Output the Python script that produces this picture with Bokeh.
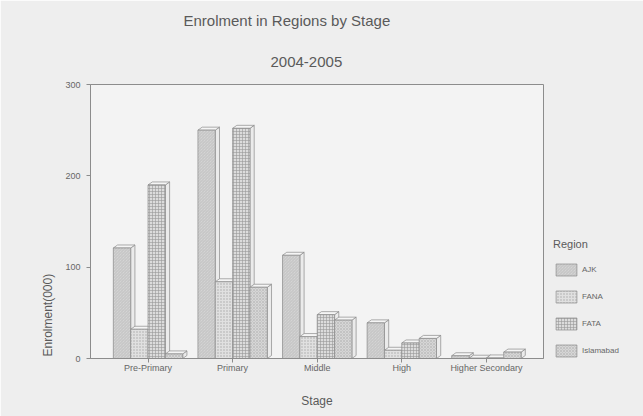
import numpy as np
from bokeh.plotting import figure
from bokeh.models import (ColumnDataSource, Legend, LegendItem, Title, FixedTicker, Range1d)
from bokeh.embed import file_html
from bokeh.resources import INLINE

stages = ["Pre-Primary", "Primary", "Middle", "High", "Higher Secondary"]
regions = ["AJK", "FANA", "FATA", "Islamabad"]
ajk = [121, 250, 113, 39, 3]
fana = [32, 84, 24, 9, 0.3]
fata = [190, 252, 48, 17, 0.6]
islamabad = [5, 78, 42, 22, 7]
y_ticks = [0, 100, 200, 300]

series = [ajk, fana, fata, islamabad]
styles = [
    dict(fill_color="#dadada", hatch_pattern="left_diagonal_line", hatch_color="#b0b0b0", hatch_scale=3, hatch_weight=0.6),
    dict(fill_color="#e0e0e0", hatch_pattern="dot", hatch_color="#aaaaaa", hatch_scale=3, hatch_weight=0.7),
    dict(fill_color="#dcdcdc", hatch_pattern="cross", hatch_color="#999999", hatch_scale=3, hatch_weight=0.6),
    dict(fill_color="#d6d6d6", hatch_pattern="diagonal_cross", hatch_color="#b0b0b0", hatch_scale=3, hatch_weight=0.5),
]

FONT = "Liberation Sans"
TXT = "#5a5a5a"
p = figure(frame_width=453, frame_height=274, min_border_left=90, min_border_top=84,
           min_border_bottom=58, min_border_right=0,
           x_range=Range1d(-0.68, 4.675), y_range=Range1d(0, 300),
           output_backend="svg", toolbar_location=None, title=None)
p.background_fill_color = "#f3f3f3"
p.border_fill_color = "#eeeeee"
p.outline_line_color = "#8c8c8c"
p.outline_line_width = 1
p.grid.visible = False

w = 0.205
dx = 0.05
dy = 3.3
gx = np.arange(len(stages))
items = []
for k, (vals, st) in enumerate(zip(series, styles)):
    xc = gx + (k - 1.5) * w
    x0 = xc - w / 2
    x1 = xc + w / 2
    v = np.array(vals, dtype=float)
    side_xs = [[a, a + dx, a + dx, a] for a in x1]
    side_ys = [[0, dy, h + dy, h] for h in v]
    top_xs = [[a, a + dx, b + dx, b] for a, b in zip(x0, x1)]
    top_ys = [[h, h + dy, h + dy, h] for h in v]
    p.patches(side_xs, side_ys, fill_color="#ebebeb", line_color="#8a8a8a", line_width=0.7)
    p.patches(top_xs, top_ys, fill_color="#f5f5f5", line_color="#8a8a8a", line_width=0.7)
    src = ColumnDataSource(dict(x=xc, top=v))
    r = p.vbar(x="x", top="top", width=w, bottom=0, source=src,
               line_color="#8a8a8a", line_width=0.7, **st)
    items.append(LegendItem(label=regions[k], renderers=[r]))

legend = Legend(items=items, title="Region", location=(10, 0),
                title_text_font=FONT, title_text_font_size="11px", title_text_color=TXT,
                title_text_font_style="normal",
                title_standoff=12, label_text_font=FONT, label_text_font_size="8px",
                label_text_color="#666666", glyph_width=26, glyph_height=15,
                spacing=12, label_standoff=3, padding=1, margin=0,
                border_line_color=None, background_fill_alpha=0)
p.add_layout(legend, "right")

p.xaxis.ticker = FixedTicker(ticks=list(gx))
p.xaxis.major_label_overrides = {int(i): s for i, s in enumerate(stages)}
p.yaxis.ticker = FixedTicker(ticks=y_ticks)
for ax in [p.xaxis, p.yaxis]:
    ax.axis_line_color = "#8c8c8c"
    ax.major_tick_line_color = "#8c8c8c"
    ax.minor_tick_line_color = None
    ax.major_tick_in = 0
    ax.major_tick_out = 4
    ax.major_label_text_font = FONT
    ax.major_label_text_font_size = "9px"
    ax.major_label_text_color = "#666666"
p.yaxis.major_label_standoff = 6
p.xaxis.major_label_standoff = 0

p.xaxis.axis_label = "Stage"
p.xaxis.axis_label_text_font = FONT
p.xaxis.axis_label_text_font_size = "12px"
p.xaxis.axis_label_text_font_style = "normal"
p.xaxis.axis_label_text_color = TXT
p.xaxis.axis_label_standoff = 18

p.add_layout(Title(text="Enrolment(000)", align="left", offset=2, standoff=16,
                   text_font=FONT, text_font_size="12px", text_font_style="normal",
                   text_color=TXT), "left")
p.add_layout(Title(text="2004-2005", align="left", offset=180, standoff=36,
                   text_font=FONT, text_font_size="15px", text_font_style="normal",
                   text_color=TXT), "above")
p.add_layout(Title(text="Enrolment in Regions by Stage", align="left", offset=93, standoff=16,
                   text_font=FONT, text_font_size="15px", text_font_style="normal",
                   text_color=TXT), "above")

open("out.html", "w").write(file_html(p, INLINE))
